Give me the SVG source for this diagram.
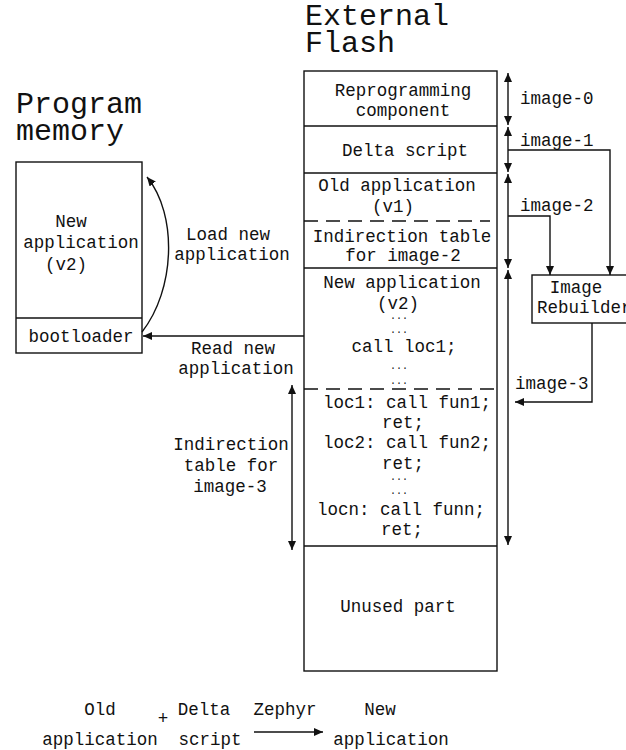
<svg xmlns="http://www.w3.org/2000/svg" width="626" height="750" viewBox="0 0 626 750">
  <style>
    text { font-family: "Liberation Mono", "Courier New", monospace; font-size: 17.5px; fill: #111; }
    .title { font-size: 30px; }
    .dots { font-size: 10px; }
    .mid { text-anchor: middle; }
    .box { fill: #fff; stroke: #111; stroke-width: 1.4; }
    .line { fill: none; stroke: #111; stroke-width: 1.4; }
    .dash { fill: none; stroke: #111; stroke-width: 1.6; stroke-dasharray: 14 8; }
  </style>
  <defs>
    <marker id="head" markerUnits="userSpaceOnUse" markerWidth="10" markerHeight="8" refX="9" refY="4" orient="auto-start-reverse">
      <path d="M0,0 L9,4 L0,8 z" fill="#111"/>
    </marker>
  </defs>

  <rect width="626" height="750" fill="#fff"/>

  <!-- titles -->
  <text class="title" x="305" y="25">External</text>
  <text class="title" x="305" y="52">Flash</text>
  <text class="title" x="16" y="113">Program</text>
  <text class="title" x="16" y="140">memory</text>

  <!-- program memory -->
  <g id="program-memory">
    <rect class="box" x="16" y="162" width="126" height="191"/>
    <line class="line" x1="16" y1="318" x2="142" y2="318"/>
    <text class="mid" x="71" y="227">New</text>
    <text class="mid" x="81" y="248">application</text>
    <text class="mid" x="66" y="270">(v2)</text>
    <text class="mid" x="81" y="342">bootloader</text>
  </g>

  <!-- external flash -->
  <g id="external-flash">
    <rect class="box" x="304" y="71" width="193" height="600"/>
    <line class="line" x1="304" y1="126" x2="497" y2="126"/>
    <line class="line" x1="304" y1="173" x2="497" y2="173"/>
    <line class="dash" x1="304" y1="221" x2="490" y2="221"/>
    <line class="line" x1="304" y1="268" x2="497" y2="268"/>
    <line class="dash" x1="304" y1="389" x2="497" y2="389"/>
    <line class="line" x1="304" y1="546" x2="497" y2="546"/>

    <text class="mid" x="403" y="96">Reprogramming</text>
    <text class="mid" x="403" y="116">component</text>
    <text class="mid" x="405" y="156">Delta script</text>
    <text class="mid" x="397" y="191">Old application</text>
    <text class="mid" x="393" y="212">(v1)</text>
    <text class="mid" x="402" y="242">Indirection table</text>
    <text class="mid" x="403" y="261">for image-2</text>

    <text class="mid" x="402" y="288">New application</text>
    <text class="mid" x="398" y="309">(v2)</text>
    <text class="mid dots" x="399" y="319">...</text>
    <text class="mid dots" x="399" y="333">...</text>
    <text class="mid" x="404" y="352">call loc1;</text>
    <text class="mid dots" x="399" y="369">...</text>
    <text class="mid dots" x="399" y="384">...</text>

    <text class="mid" x="407" y="408">loc1: call fun1;</text>
    <text class="mid" x="403" y="428">ret;</text>
    <text class="mid" x="407" y="448">loc2: call fun2;</text>
    <text class="mid" x="403" y="469">ret;</text>
    <text class="mid dots" x="399" y="480">...</text>
    <text class="mid dots" x="399" y="494">...</text>
    <text class="mid" x="401" y="515">locn: call funn;</text>
    <text class="mid" x="402" y="535">ret;</text>

    <text class="mid" x="398" y="612">Unused part</text>
  </g>

  <!-- image rebuilder -->
  <g id="image-rebuilder">
    <rect class="box" x="532" y="275" width="110" height="48"/>
    <text class="mid" x="576" y="293">Image</text>
    <text x="537" y="313">Rebuilder</text>
  </g>

  <!-- side labels -->
  <g id="labels">
    <text x="520" y="104">image-0</text>
    <text x="520" y="146">image-1</text>
    <text x="520" y="211">image-2</text>
    <text x="515" y="389">image-3</text>
    <text class="mid" x="228" y="240">Load new</text>
    <text class="mid" x="232" y="260">application</text>
    <text class="mid" x="233" y="354">Read new</text>
    <text class="mid" x="236" y="374">application</text>
    <text class="mid" x="231" y="450">Indirection</text>
    <text class="mid" x="231" y="471">table for</text>
    <text class="mid" x="230" y="492">image-3</text>
  </g>

  <!-- connectors -->
  <g id="connectors">
    <line class="line" x1="508" y1="73" x2="508" y2="125" marker-start="url(#head)" marker-end="url(#head)"/>
    <line class="line" x1="508" y1="127" x2="508" y2="172" marker-start="url(#head)" marker-end="url(#head)"/>
    <line class="line" x1="508" y1="174" x2="508" y2="268" marker-start="url(#head)" marker-end="url(#head)"/>
    <line class="line" x1="508" y1="270" x2="508" y2="545" marker-start="url(#head)" marker-end="url(#head)"/>
    <line class="line" x1="292" y1="385" x2="292" y2="550" marker-start="url(#head)" marker-end="url(#head)"/>

    <polyline class="line" points="508,150 610,150 610,275" marker-end="url(#head)"/>
    <polyline class="line" points="508,216 550,216 550,275" marker-end="url(#head)"/>
    <polyline class="line" points="592,323 592,402 515,402" marker-end="url(#head)"/>

    <line class="line" x1="304" y1="336" x2="143" y2="336" marker-end="url(#head)"/>
    <path class="line" d="M142,332 C175,290 178,215 147,177" marker-end="url(#head)"/>
  </g>

  <!-- summary equation -->
  <g id="equation">
    <text class="mid" x="100" y="715">Old</text>
    <text class="mid" x="100" y="745">application</text>
    <text class="mid" x="163" y="724">+</text>
    <text class="mid" x="204" y="715">Delta</text>
    <text class="mid" x="210" y="745">script</text>
    <text class="mid" x="285" y="715">Zephyr</text>
    <line class="line" x1="254" y1="732" x2="323" y2="732" marker-end="url(#head)"/>
    <text class="mid" x="380" y="715">New</text>
    <text class="mid" x="391" y="745">application</text>
  </g>
</svg>
